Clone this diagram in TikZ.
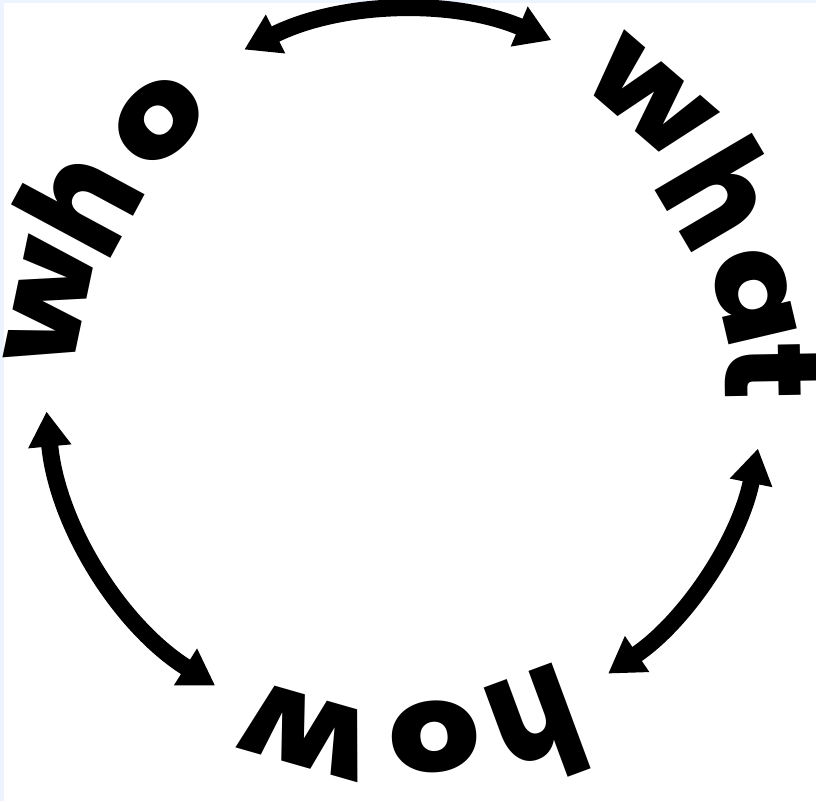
\documentclass[tikz,border=0pt]{standalone}
\usepackage{fontspec}
\usepackage{graphicx}
\usetikzlibrary{arrows.meta}
\IfFontExistsTF{Poppins ExtraBold}
  {\newfontfamily\wordfont{Poppins ExtraBold}}
  {\newfontfamily\wordfont{Poppins}[UprightFont={* Bold}]}
\definecolor{bgblue}{HTML}{EEF4FF}
\newcommand\wideltr[1]{\scalebox{1.15}[1]{#1}}
\newcommand\tallltr[1]{\scalebox{1.0}[1.22]{#1}}
\newcommand\tltr[1]{\scalebox{1.1}[1.08]{#1}}
\tikzset{
  ltr/.style={font=\wordfont\fontsize{125}{125}\selectfont, inner sep=0pt, outer sep=0pt, anchor=center},
  dbl/.style={line width=17pt, arrows={Triangle[width=41pt,length=35pt]-Triangle[width=41pt,length=35pt]}}
}
\begin{document}
\begin{tikzpicture}[x=1pt,y=1pt]
\useasboundingbox (-408,-423) rectangle (408,378);
\fill[bgblue] (-408,-423) rectangle (408,378);
\fill[white] (-403.5,-423) rectangle (408,375.3);
% who
\node[ltr, rotate=78.2] (who1) at (168.2:366) {\wideltr{w}};
\node[ltr, rotate=61.7] (who2) at (151.7:374.6) {\tallltr{h}};
\node[ltr, rotate=44.1] (who3) at (134.1:358) {\wideltr{o}};
% what
\node[ltr, rotate=-40.8] (what1) at (49.2:370) {\wideltr{w}};
\node[ltr, rotate=-59.5] (what2) at (30.5:364) {\tallltr{h}};
\node[ltr, rotate=-76.8] (what3) at (13.2:355) {\wideltr{a}};
\node[ltr, rotate=-89] (what4) at (1.0:364) {\tltr{t}};
% how
\node[ltr, rotate=-159.7] (how1) at (-69.7:373) {\tallltr{h}};
\node[ltr, rotate=-175.7] (how2) at (-85.7:360) {\wideltr{o}};
\node[ltr, rotate=-196] (how3) at (-106:368) {\wideltr{w}};
% arrows
\coordinate (ta) at (116.5:367);
\coordinate (tb) at (67:367);
\coordinate (la) at (185.3:363);
\coordinate (lb) at (237.9:363);
\coordinate (ra) at (-11.4:357);
\coordinate (rb) at (-55.9:357);
\draw[dbl] (ta) arc[start angle=116.5, end angle=67, radius=367];
\draw[dbl] (la) arc[start angle=185.3, end angle=237.9, radius=363];
\draw[dbl] (ra) arc[start angle=-11.4, end angle=-55.9, radius=357];
\end{tikzpicture}
\end{document}
